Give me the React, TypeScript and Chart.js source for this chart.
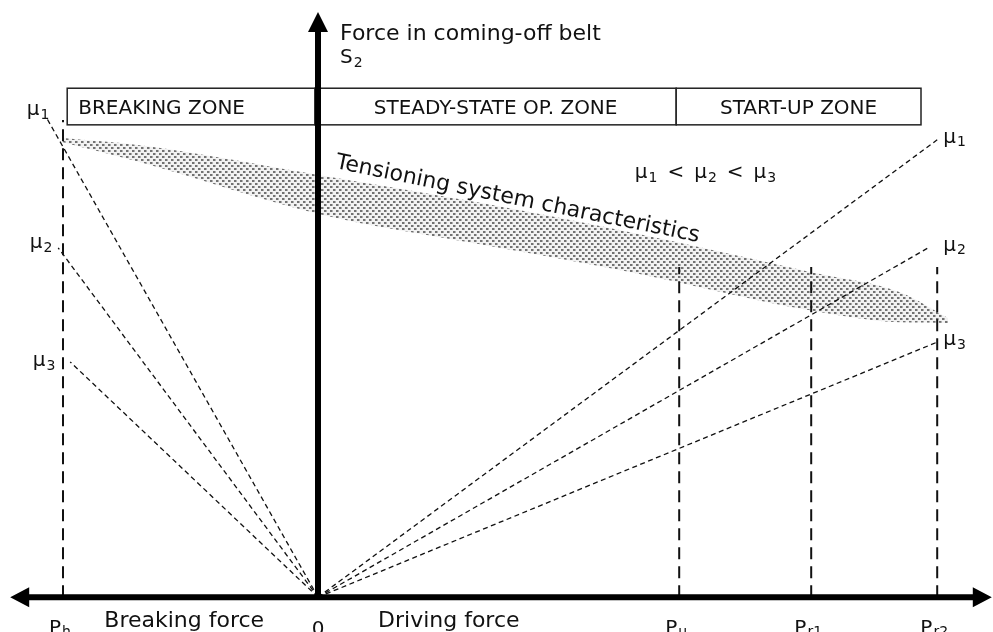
import React, { useEffect, useRef } from "react";
import { Chart, registerables } from "chart.js";

Chart.register(...registerables);

const FONT = '"DejaVu Sans", Verdana, sans-serif';

// ---- data (arbitrary force units; origin = 0) ----
// characteristic force points on the horizontal axis
const markerNames = ["P", "P", "P", "P"];
const markerSubs = ["h", "u", "r1", "r2"];
const markerForces = [-4.25, 6.02, 8.22, 10.32];
const markerTops = [7.95, 5.5, 5.5, 5.5];

// friction-coefficient rays from the origin
const muSubs = ["1", "2", "3"];
const muBrakeX = [-4.52, -4.33, -4.13];
const muBrakeY = [7.98, 5.82, 3.92];
const muDriveX = [10.32, 10.17, 10.32];
const muDriveY = [7.62, 5.82, 4.25];

// tensioning system characteristic band
const bandX = [-4.25, -2.97, 0.03, 2.7, 5.2, 8.2, 9.7, 10.5];
const bandUpper = [7.65, 7.53, 7.03, 6.57, 6.08, 5.42, 5.08, 4.65];
const bandLower = [7.58, 7.25, 6.38, 5.88, 5.42, 4.78, 4.58, 4.57];

// operating zones
const zoneNames = ["BREAKING ZONE", "STEADY-STATE OP. ZONE", "START-UP ZONE"];
const zoneEdges = [-4.18, -0.05, 5.97, 10.05];
const zoneBottom = 7.87;
const zoneTop = 8.48;

type Part = [string, boolean];

function drawRich(
  ctx: CanvasRenderingContext2D,
  parts: Part[],
  x: number,
  y: number,
  size: number,
  align: "left" | "center" | "right",
  subShift = 0.18
) {
  const subSize = Math.round(size * 0.68);
  let total = 0;
  const widths = parts.map(([t, sub]) => {
    ctx.font = `${sub ? subSize : size}px ${FONT}`;
    const w = ctx.measureText(t).width + (sub ? 1 : 0);
    total += w;
    return w;
  });
  let cx = align === "center" ? x - total / 2 : align === "right" ? x - total : x;
  ctx.textAlign = "left";
  ctx.textBaseline = "alphabetic";
  parts.forEach(([t, sub], i) => {
    ctx.font = `${sub ? subSize : size}px ${FONT}`;
    ctx.fillText(t, cx + (sub ? 1 : 0), sub ? y + size * subShift : y);
    cx += widths[i];
  });
}

const diagramPlugin = {
  id: "diagram",
  afterDatasetsDraw(chart: any) {
    const { ctx } = chart;
    const xs = chart.scales.x;
    const ys = chart.scales.y;
    const X = (v: number) => xs.getPixelForValue(v);
    const Y = (v: number) => ys.getPixelForValue(v);
    ctx.save();
    ctx.fillStyle = "#111";

    // zone boxes
    const yt = Y(zoneTop);
    const yb = Y(zoneBottom);
    ctx.lineWidth = 1.5;
    ctx.strokeStyle = "#222";
    ctx.setLineDash([]);
    zoneNames.forEach((name, i) => {
      const x0 = X(zoneEdges[i]);
      const x1 = X(zoneEdges[i + 1]);
      ctx.fillStyle = "#fff";
      ctx.fillRect(x0, yt, x1 - x0, yb - yt);
      ctx.strokeRect(x0, yt, x1 - x0, yb - yt);
      ctx.fillStyle = "#111";
      ctx.font = `20px ${FONT}`;
      ctx.textBaseline = "alphabetic";
      if (i === 0) {
        ctx.textAlign = "left";
        ctx.fillText(name, x0 + 11, (yt + yb) / 2 + 7);
      } else {
        ctx.textAlign = "center";
        ctx.fillText(name, (x0 + x1) / 2, (yt + yb) / 2 + 7);
      }
    });

    // axes
    const ox = X(0);
    const oy = Y(0);
    ctx.fillStyle = "#000";
    ctx.strokeStyle = "#000";
    ctx.lineWidth = 6;
    const xl = X(-5.13);
    const xr = X(11.23);
    const yTip = Y(9.75);
    ctx.beginPath();
    ctx.moveTo(xl + 14, oy);
    ctx.lineTo(xr - 14, oy);
    ctx.moveTo(ox, oy + 3);
    ctx.lineTo(ox, yTip + 16);
    ctx.stroke();
    ctx.beginPath();
    ctx.moveTo(xl, oy);
    ctx.lineTo(xl + 19, oy - 10);
    ctx.lineTo(xl + 19, oy + 10);
    ctx.closePath();
    ctx.moveTo(xr, oy);
    ctx.lineTo(xr - 19, oy - 10);
    ctx.lineTo(xr - 19, oy + 10);
    ctx.closePath();
    ctx.moveTo(ox, yTip);
    ctx.lineTo(ox - 10, yTip + 20);
    ctx.lineTo(ox + 10, yTip + 20);
    ctx.closePath();
    ctx.fill();

    ctx.fillStyle = "#111";
    // y axis title
    ctx.font = `22px ${FONT}`;
    ctx.textAlign = "left";
    ctx.fillText("Force in coming-off belt", X(0.367), Y(9.28));
    drawRich(ctx, [["S", false], ["2", true]], X(0.367), Y(8.9), 20, "left");

    // mu labels
    muSubs.forEach((s, i) => {
      drawRich(ctx, [["μ", false], [s, true]], X(muBrakeX[0]) - 20 + 3 * i, Y(muBrakeY[i]) - 3 + 3.5 * i, 20, "left");
      drawRich(ctx, [["μ", false], [s, true]], X(10.32) + 6, Y(muDriveY[i]) + 3, 20, "left");
    });
    const sep = "\u2002<\u2002";
    drawRich(
      ctx,
      [["μ", false], ["1", true], [sep, false], ["μ", false], ["2", true], [sep, false], ["μ", false], ["3", true]],
      X(5.28),
      Y(6.98),
      20,
      "left"
    );

    // band caption
    ctx.save();
    ctx.translate(X(0.28), Y(7.15));
    ctx.rotate((11.5 * Math.PI) / 180);
    ctx.font = `22px ${FONT}`;
    ctx.textAlign = "left";
    ctx.fillText("Tensioning system characteristics", 0, 0);
    ctx.restore();

    // horizontal axis labels
    markerNames.forEach((n, i) => {
      drawRich(ctx, [[n, false], [markerSubs[i], true]], X(markerForces[i]) - 3, oy + 37, 20, "center", 0.1);
    });
    ctx.font = `20px ${FONT}`;
    ctx.textAlign = "center";
    ctx.fillText("0", ox, oy + 38);
    ctx.font = `22px ${FONT}`;
    ctx.fillText("Breaking force", X(-2.23), oy + 30);
    ctx.fillText("Driving force", X(2.18), oy + 30);

    ctx.restore();
  },
};

function makeStipple(): CanvasPattern | string {
  const c = document.createElement("canvas");
  c.width = 6;
  c.height = 6;
  const g = c.getContext("2d");
  if (!g) return "#bbb";
  g.fillStyle = "#f2f2f2";
  g.fillRect(0, 0, 6, 6);
  g.fillStyle = "#727272";
  g.fillRect(0, 0, 2, 2);
  g.fillRect(3, 3, 2, 2);
  g.fillStyle = "#b0b0b0";
  g.fillRect(2, 0, 1, 2);
  g.fillRect(5, 3, 1, 2);
  return g.createPattern(c, "repeat") || "#bbb";
}

export default function App() {
  const ref = useRef<HTMLCanvasElement | null>(null);

  useEffect(() => {
    if (!ref.current) return;
    const stipple = makeStipple();
    const line = (pts: { x: number; y: number }[], width: number, dash: number[], order: number) => ({
      data: pts,
      showLine: true,
      pointRadius: 0,
      borderColor: "#111",
      borderWidth: width,
      borderDash: dash,
      fill: false,
      order,
    });
    const datasets: any[] = [
      {
        data: bandX.map((x, i) => ({ x, y: bandUpper[i] })),
        showLine: true,
        pointRadius: 0,
        borderWidth: 0,
        borderColor: "rgba(0,0,0,0)",
        backgroundColor: stipple,
        cubicInterpolationMode: "monotone",
        fill: "+1",
        order: 10,
      },
      {
        data: bandX.map((x, i) => ({ x, y: bandLower[i] })),
        showLine: true,
        pointRadius: 0,
        borderWidth: 0,
        borderColor: "rgba(0,0,0,0)",
        cubicInterpolationMode: "monotone",
        fill: false,
        order: 10,
      },
    ];
    markerForces.forEach((f, i) => {
      datasets.push(line([{ x: f, y: 0 }, { x: f, y: markerTops[i] }], 2, [12, 7], 1));
    });
    muSubs.forEach((_, i) => {
      datasets.push(line([{ x: 0, y: 0 }, { x: muBrakeX[i], y: muBrakeY[i] }], 1.3, [5, 3.5], 2));
      datasets.push(line([{ x: 0, y: 0 }, { x: muDriveX[i], y: muDriveY[i] }], 1.3, [5, 3.5], 2));
    });

    const chart = new Chart(ref.current, {
      type: "scatter",
      data: { datasets },
      options: {
        animation: false,
        responsive: true,
        maintainAspectRatio: false,
        events: [],
        layout: { padding: 0 },
        plugins: { legend: { display: false }, tooltip: { enabled: false } },
        scales: {
          x: { type: "linear", min: -5.3, max: 11.25, display: false },
          y: { type: "linear", min: -0.58, max: 9.95, display: false },
        },
      },
      plugins: [diagramPlugin],
    } as any);
    return () => chart.destroy();
  }, []);

  return (
    <div style={{ position: "fixed", left: 0, top: 0, width: 993, height: 632, background: "#fff" }}>
      <canvas ref={ref} />
    </div>
  );
}
